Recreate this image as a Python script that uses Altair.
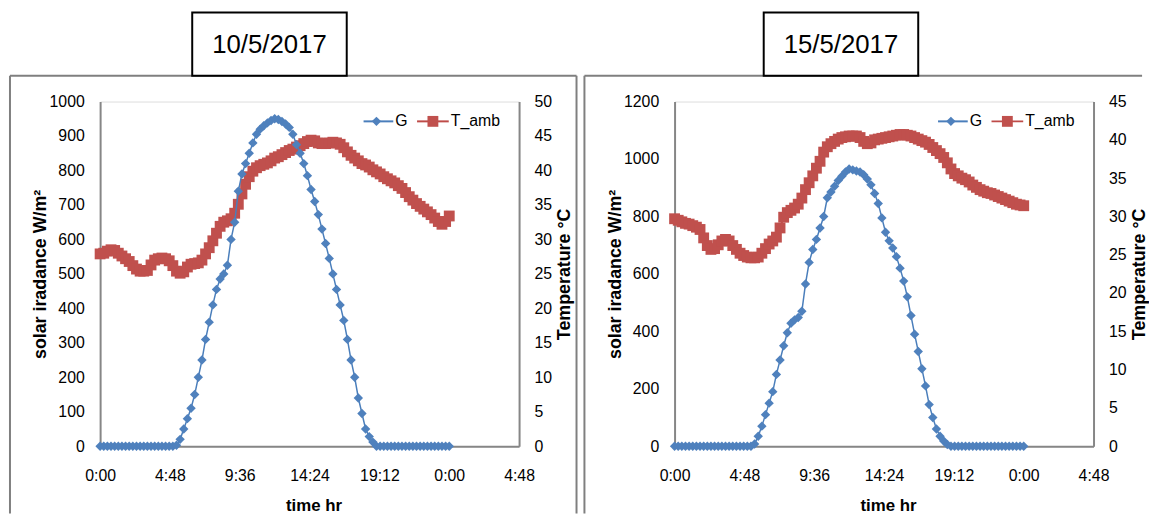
import altair as alt
import pandas as pd

# ---------------- data (15-minute samples, 0:00 .. 24:00) ----------------
STEP_H = 0.25
N_SAMPLES = 97

TITLES = ["10/5/2017", "15/5/2017"]
SERIES = ["G", "T_amb"]
X_TICKS = [0, 4.8, 9.6, 14.4, 19.2, 24.0, 28.8]
X_TICK_LABELS = ["0:00", "4:48", "9:36", "14:24", "19:12", "0:00", "4:48"]
G_TICKS_1 = [0, 100, 200, 300, 400, 500, 600, 700, 800, 900, 1000]
T_TICKS_1 = [0, 5, 10, 15, 20, 25, 30, 35, 40, 45, 50]
G_TICKS_2 = [0, 200, 400, 600, 800, 1000, 1200]
T_TICKS_2 = [0, 5, 10, 15, 20, 25, 30, 35, 40, 45]

G_1 = [0] * 21 + [
    3, 20, 50, 80, 110, 150, 200, 250, 310, 360,
    410, 455, 485, 500, 525, 600, 650, 740, 790, 820,
    850, 880, 905, 920, 930, 938, 945, 950, 948, 942,
    935, 925, 905, 875, 850, 820, 785, 745, 710, 672,
    630, 588, 545, 500, 455, 410, 365, 310, 250, 200,
    140, 95, 50, 28, 12, 0,
] + [0] * 20

T_1 = [
    27.9, 28.0, 28.3, 28.5, 28.4, 28.0, 27.6, 27.2, 26.8,
    26.2, 25.7, 25.4, 25.4, 25.5, 26.3, 27.0, 27.2,
    27.3, 27.2, 26.9, 26.2, 25.4, 25.1, 25.3, 26.0,
    26.4, 26.5, 26.6, 27.0, 27.9, 28.8, 29.8, 30.9,
    31.9, 32.5, 32.7, 33.0, 33.8, 35.1, 36.6, 38.0,
    39.1, 39.9, 40.4, 40.7, 40.9, 41.1, 41.4, 41.8,
    42.0, 42.3, 42.6, 42.9, 43.1, 43.4, 43.6, 43.9,
    44.2, 44.4, 44.3, 44.0, 43.9, 43.9, 44.0, 44.1,
    44.0, 43.8, 43.3, 42.7, 42.2, 41.8, 41.4, 41.0,
    40.8, 40.5, 40.1, 39.8, 39.5, 39.1, 38.8, 38.5,
    38.2, 37.8, 37.4, 36.8, 36.2, 35.7, 35.2, 34.8,
    34.4, 34.0, 33.6, 33.1, 32.6, 32.2, 32.6, 33.4,
]

G_2 = [0] * 22 + [
    8, 35, 70, 110, 150, 190, 250, 300, 350, 395,
    428, 440, 448, 470, 565, 640, 685, 720, 760, 800,
    865, 885, 905, 925, 940, 955, 965, 962, 958, 955,
    945, 930, 910, 880, 845, 795, 745, 715, 690, 660,
    620, 575, 520, 455, 390, 330, 270, 210, 145, 100,
    60, 35, 18, 6,
] + [0] * 21

T_2 = [
    29.7, 29.5, 29.3, 29.1, 29.0, 28.8, 28.6, 28.3, 27.2,
    26.2, 25.7, 25.8, 26.3, 26.8, 27.0, 26.8, 26.2,
    25.7, 25.2, 24.9, 24.7, 24.6, 24.6, 24.7, 25.2,
    25.8, 26.4, 26.8, 27.3, 28.5, 29.9, 30.5, 30.8,
    31.1, 31.6, 32.4, 33.5, 34.4, 35.3, 36.3, 37.2,
    38.4, 39.1, 39.5, 39.8, 40.1, 40.3, 40.4, 40.5,
    40.5, 40.5, 40.3, 39.8, 39.5, 39.6, 40.0, 40.1,
    40.2, 40.3, 40.4, 40.5, 40.6, 40.7, 40.7, 40.6,
    40.5, 40.3, 40.1, 39.9, 39.7, 39.4, 39.0, 38.6,
    38.2, 37.7, 37.0, 36.2, 35.6, 35.3, 35.0, 34.8,
    34.5, 34.1, 33.8, 33.5, 33.3, 33.1, 33.0, 32.8,
    32.6, 32.4, 32.2, 32.0, 31.8, 31.6, 31.5, 31.4,
]

HOURS = [i * STEP_H for i in range(N_SAMPLES)]

# ---------------- styling ----------------
BLUE_LINE = "#4A7EBB"
BLUE_MARK = "#4F81BD"
RED_LINE = "#BE4B48"
RED_MARK = "#C0504D"
AXIS_GRAY = "#868686"
BORDER_GRAY = "#7F7F7F"
FONT = "Liberation Sans, Arial, sans-serif"

W, H = 423, 348
label_expr = "[" + ",".join("'%s'" % s for s in X_TICK_LABELS) + "][round(datum.value / 4.8)]"

one = pd.DataFrame({"k": [0]})


def panel(title, g_vals, t_vals, g_max, t_max, g_ticks, t_ticks, right_edge, box_x, close_right):
    df = pd.DataFrame({"h": HOURS, "G": g_vals, "T": t_vals})
    base = alt.Chart(df)
    x_enc = alt.X(
        "h:Q",
        scale=alt.Scale(domain=[0, 28.8], nice=False, zero=False),
        axis=alt.Axis(
            values=X_TICKS, labelExpr=label_expr, ticks=False, grid=False,
            domainColor=AXIS_GRAY, domainWidth=2,
            labelFont=FONT, labelFontSize=16, labelColor="#000", labelPadding=22,
            labelFlush=False,
            title="time hr", titleFont=FONT, titleFontSize=17, titleFontWeight="bold",
            titleColor="#000", titleX=W / 2 + 4, titleY=60, titleAlign="center",
            titleBaseline="middle",
        ),
    )
    t_layer = base.mark_line(
        color=RED_LINE, strokeWidth=2,
        point=alt.OverlayMarkDef(shape="square", size=120, filled=True, color=RED_MARK, opacity=1),
    ).encode(
        x=x_enc,
        y=alt.Y(
            "T:Q",
            scale=alt.Scale(domain=[0, t_max], nice=False),
            axis=alt.Axis(
                orient="right", values=t_ticks, format="d", ticks=False, grid=False,
                domainColor=AXIS_GRAY, domainWidth=2,
                labelFont=FONT, labelFontSize=16, labelColor="#000", labelPadding=15,
                title="Temperature °C", titleFont=FONT, titleFontSize=18,
                titleFontWeight="bold", titleColor="#000", titleAngle=270,
                titleX=46, titleY=H / 2, titleAlign="center", titleBaseline="middle",
            ),
        ),
    )
    g_layer = base.mark_line(
        color=BLUE_LINE, strokeWidth=1.5,
        point=alt.OverlayMarkDef(shape="diamond", size=90, filled=True, color=BLUE_MARK, opacity=1),
    ).encode(
        x=x_enc,
        y=alt.Y(
            "G:Q",
            scale=alt.Scale(domain=[0, g_max], nice=False),
            axis=alt.Axis(
                orient="left", values=g_ticks, format="d", ticks=False, grid=False,
                domainColor=AXIS_GRAY, domainWidth=2,
                labelFont=FONT, labelFontSize=16, labelColor="#000", labelPadding=16,
                title="solar iradance W/m²", titleFont=FONT, titleFontSize=18,
                titleFontWeight="bold", titleColor="#000", titleAngle=270,
                titleX=-60, titleY=H / 2, titleAlign="center", titleBaseline="middle",
            ),
        ),
    )

    deco = []
    # panel frame
    deco.append(alt.Chart(one).mark_rule(color=BORDER_GRAY, strokeWidth=2).encode(
        x=alt.value(-91), x2=alt.value(right_edge), y=alt.value(-26)))
    deco.append(alt.Chart(one).mark_rule(color=BORDER_GRAY, strokeWidth=2).encode(
        x=alt.value(-91), y=alt.value(-26), y2=alt.value(416)))
    if close_right:
        deco.append(alt.Chart(one).mark_rule(color=BORDER_GRAY, strokeWidth=2).encode(
            x=alt.value(right_edge), y=alt.value(-26), y2=alt.value(416)))
    # date box
    deco.append(alt.Chart(one).mark_rect(fill="white", stroke="#000", strokeWidth=2).encode(
        x=alt.value(box_x), x2=alt.value(box_x + 156), y=alt.value(-90), y2=alt.value(-26)))
    deco.append(alt.Chart(one).mark_text(text=title, font=FONT, fontSize=26, color="#000",
                                         align="center", baseline="middle").encode(
        x=alt.value(box_x + 78), y=alt.value(-57)))
    # legend
    ly = 20
    lx = 266
    deco.append(alt.Chart(one).mark_rule(color=BLUE_LINE, strokeWidth=2).encode(
        x=alt.value(lx), x2=alt.value(lx + 30), y=alt.value(ly)))
    deco.append(alt.Chart(one).mark_point(shape="diamond", size=90, filled=True,
                                          color=BLUE_MARK, opacity=1).encode(
        x=alt.value(lx + 13), y=alt.value(ly)))
    deco.append(alt.Chart(one).mark_text(text=SERIES[0], font=FONT, fontSize=16, color="#000",
                                         align="left", baseline="middle").encode(
        x=alt.value(lx + 32), y=alt.value(ly)))
    deco.append(alt.Chart(one).mark_rule(color=RED_LINE, strokeWidth=2).encode(
        x=alt.value(lx + 54), x2=alt.value(lx + 86), y=alt.value(ly)))
    deco.append(alt.Chart(one).mark_point(shape="square", size=120, filled=True,
                                          color=RED_MARK, opacity=1).encode(
        x=alt.value(lx + 70), y=alt.value(ly)))
    deco.append(alt.Chart(one).mark_text(text=SERIES[1], font=FONT, fontSize=16, color="#000",
                                         align="left", baseline="middle").encode(
        x=alt.value(lx + 88), y=alt.value(ly)))

    return alt.layer(t_layer, g_layer, *deco).resolve_scale(y="independent").properties(
        width=W, height=H)


left = panel(TITLES[0], G_1, T_1, 1000, 50, G_TICKS_1, T_TICKS_1, 481, 93, True)
right = panel(TITLES[1], G_2, T_2, 1200, 45, G_TICKS_2, T_TICKS_2, 472, 90, False)

chart = alt.hconcat(left, right, spacing=4).properties(padding=0).configure_view(
    strokeWidth=0
).configure(background="white")

chart.save("out.html", embed_options={"renderer": "svg", "actions": False})
